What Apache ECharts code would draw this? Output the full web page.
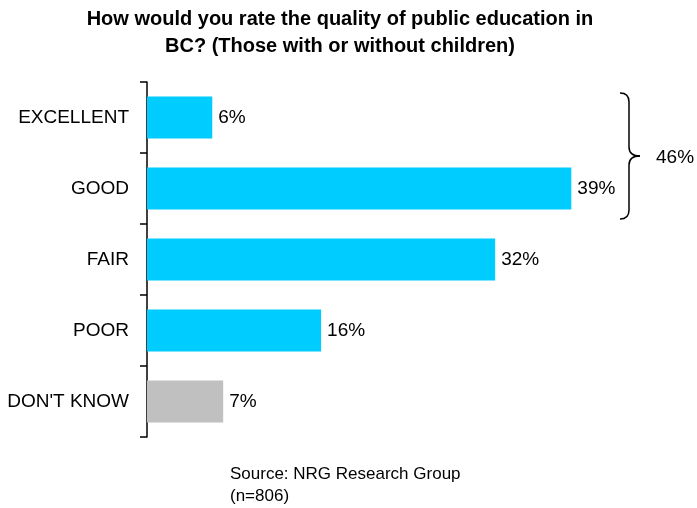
<!DOCTYPE html>
<html>
<head>
<meta charset="utf-8">
<script src="https://cdn.jsdelivr.net/npm/echarts@6/dist/echarts.min.js"></script>
<style>
html,body{margin:0;padding:0;background:#fff;}
#chart{width:697px;height:508px;}
</style>
</head>
<body>
<div id="chart"></div>
<script>
const categories = ['EXCELLENT', 'GOOD', 'FAIR', 'POOR', "DON'T KNOW"];
const values = [6, 39, 32, 16, 7];
const barColors = ['#00CCFF', '#00CCFF', '#00CCFF', '#00CCFF', '#C0C0C0'];
const braceLabel = '46%';
const braceCategories = ['EXCELLENT', 'GOOD'];
const titleText = 'How would you rate the quality of public education in\nBC? (Those with or without children)';
const sourceText = 'Source: NRG Research Group\n(n=806)';

(function () {
const FONT = '"Liberation Sans", Arial, sans-serif';
const chart = echarts.init(document.getElementById('chart'), null, {renderer: 'canvas'});

const option = {
  backgroundColor: '#fff',
  animation: false,
  title: {
    text: titleText,
    left: 335,
    textAlign: 'center',
    top: 1,
    textStyle: {fontFamily: FONT, fontSize: 20, fontWeight: 'bold', color: '#000', lineHeight: 27}
  },
  grid: {left: 147, right: 6, top: 82, bottom: 71, containLabel: false},
  xAxis: {
    type: 'value', min: 0, max: 50, show: false
  },
  yAxis: {
    type: 'category',
    data: categories,
    inverse: true,
    axisLine: {show: true, lineStyle: {color: '#000', width: 1.5}},
    axisTick: {show: true, length: 7, lineStyle: {color: '#000', width: 1.5}},
    axisLabel: {fontFamily: FONT, fontSize: 19, color: '#000', margin: 18},
    splitLine: {show: false}
  },
  series: [{
    type: 'bar',
    data: values.map((v, i) => ({value: v, itemStyle: {color: barColors[i]}})),
    barWidth: 42,
    label: {
      show: true, position: 'right', distance: 6,
      formatter: p => p.value + '%',
      fontFamily: FONT, fontSize: 19, color: '#000'
    }
  }]
};
chart.setOption(option);

// brace spanning the two top categories
const yA = chart.convertToPixel({yAxisIndex: 0}, braceCategories[0]);
const yB = chart.convertToPixel({yAxisIndex: 0}, braceCategories[1]);
const band = yB - yA;
const yTop = yA - band / 2 + 11;
const yBot = yB + band / 2 - 5;
const yMid = (yTop + yBot) / 2;
const xL = 620, xV = 629, xM = 640, r = 9;
const stroke = {stroke: '#000', lineWidth: 1.5, fill: null};
chart.setOption({
  graphic: [
    {
      type: 'text', left: 230, top: 463,
      style: {text: sourceText, fontFamily: FONT, fontSize: 17, fill: '#000', lineHeight: 22}
    },
    {type: 'bezierCurve', shape: {x1: xL, y1: yTop, cpx1: xV, cpy1: yTop, x2: xV, y2: yTop + r}, style: stroke},
    {type: 'line', shape: {x1: xV, y1: yTop + r, x2: xV, y2: yMid - r}, style: stroke},
    {type: 'bezierCurve', shape: {x1: xV, y1: yMid - r, cpx1: xV, cpy1: yMid, x2: xM, y2: yMid}, style: stroke},
    {type: 'bezierCurve', shape: {x1: xM, y1: yMid, cpx1: xV, cpy1: yMid, x2: xV, y2: yMid + r}, style: stroke},
    {type: 'line', shape: {x1: xV, y1: yMid + r, x2: xV, y2: yBot - r}, style: stroke},
    {type: 'bezierCurve', shape: {x1: xV, y1: yBot - r, cpx1: xV, cpy1: yBot, x2: xL, y2: yBot}, style: stroke},
    {
      type: 'text', x: 656, y: yMid + 2,
      style: {text: braceLabel, fontFamily: FONT, fontSize: 19, fill: '#000', verticalAlign: 'middle', align: 'left'}
    }
  ]
});
})();
</script>
</body>
</html>
